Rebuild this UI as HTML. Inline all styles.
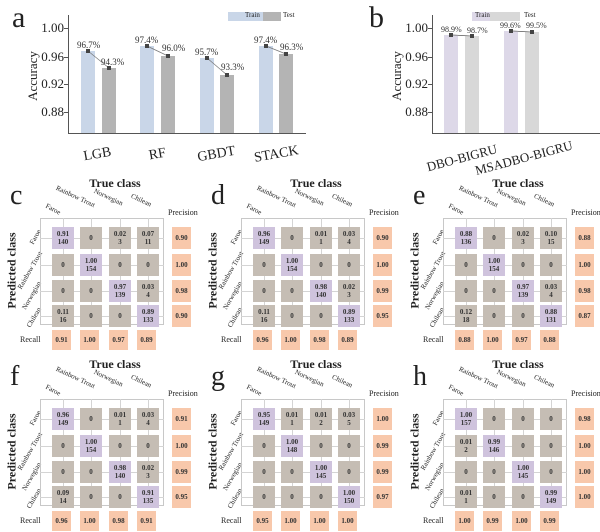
<!DOCTYPE html>
<html><head><meta charset="utf-8">
<style>
*{margin:0;padding:0;box-sizing:border-box}
body{width:600px;height:532px;background:#fff;position:relative;overflow:hidden;font-family:"Liberation Serif",serif;color:#222}
.a{position:absolute}
.P{position:absolute;width:200px;height:181px}
.fr{position:absolute;left:40px;top:48px;width:124px;height:107px;border:1px solid #c8c8c8}
.vl{position:absolute;top:48px;height:107px;width:1px;background:#d4d4d4}
.hl{position:absolute;left:40px;width:124px;height:1px;background:#d4d4d4}
.k{position:absolute;width:22px;height:22px;font-size:7px;font-weight:bold;line-height:8px;text-align:center;display:flex;align-items:center;justify-content:center;color:#333}
.g{background:#c5bdb4}.p{background:#cfc3dd}.o{background:#f8c8ab;width:19px}
.c0{left:52px}.c1{left:80px}.c2{left:109px}.c3{left:137px}.c4{left:172px}
.r0{top:57px}.r1{top:84px}.r2{top:110px}.r3{top:135px}.r4{top:160px;height:20px}
.tt{position:absolute;left:70px;top:6px;width:90px;text-align:center;font-weight:bold;font-size:12px}
.lt{position:absolute;left:10px;top:12px;font-size:28px;line-height:28px}
.pr{position:absolute;left:168px;top:38px;font-size:8px}
.rc{position:absolute;left:20px;top:165px;font-size:8px}
.pc{position:absolute;left:-38px;top:93px;width:100px;text-align:center;font-weight:bold;font-size:12px;transform:rotate(-90deg)}
.cl{position:absolute;font-size:7px;transform-origin:0 0;white-space:nowrap}
.rl{position:absolute;font-size:7px;transform-origin:100% 0;white-space:nowrap;text-align:right}
.tk{position:absolute;font-size:13px;text-align:right;width:40px}
.bv{position:absolute;font-size:9px;color:#333}
</style></head><body>

<!-- Panel a -->
<div class="a" style="left:12px;top:3px;font-size:30px;line-height:30px">a</div>
<div class="a" style="left:68px;top:15px;width:1px;height:118px;background:#555"></div>
<div class="a" style="left:68px;top:133px;width:238px;height:1px;background:#555"></div>
<div class="tk" style="left:24px;top:20px">1.00</div>
<div class="tk" style="left:24px;top:49px">0.96</div>
<div class="tk" style="left:24px;top:76px">0.92</div>
<div class="tk" style="left:24px;top:104px">0.88</div>
<div class="a" style="left:64px;top:28px;width:4px;height:1px;background:#555"></div>
<div class="a" style="left:64px;top:57px;width:4px;height:1px;background:#555"></div>
<div class="a" style="left:64px;top:84px;width:4px;height:1px;background:#555"></div>
<div class="a" style="left:64px;top:112px;width:4px;height:1px;background:#555"></div>
<div class="a" style="left:-2px;top:68px;width:70px;text-align:center;font-size:13px;transform:rotate(-90deg)">Accuracy</div>
<div class="a" style="left:81px;top:51px;width:14px;height:82px;background:#c9d6e8"></div>
<div class="a" style="left:102px;top:68px;width:14px;height:65px;background:#b4b4b4"></div>
<div class="a" style="left:140px;top:46px;width:14px;height:87px;background:#c9d6e8"></div>
<div class="a" style="left:161px;top:56px;width:14px;height:77px;background:#b4b4b4"></div>
<div class="a" style="left:200px;top:58px;width:14px;height:75px;background:#c9d6e8"></div>
<div class="a" style="left:220px;top:75px;width:14px;height:58px;background:#b4b4b4"></div>
<div class="a" style="left:259px;top:46px;width:14px;height:87px;background:#c9d6e8"></div>
<div class="a" style="left:279px;top:54px;width:14px;height:79px;background:#b4b4b4"></div>
<svg class="a" style="left:0;top:0" width="600" height="180">
<g stroke="#777" stroke-width="0.7"><line x1="88" y1="51" x2="109" y2="68"/><line x1="147" y1="46" x2="168" y2="56"/><line x1="207" y1="58" x2="227" y2="75"/><line x1="266" y1="46" x2="286" y2="54"/>
<line x1="451" y1="35" x2="472" y2="36"/><line x1="511" y1="31" x2="532" y2="32"/></g>
<g fill="#444"><rect x="86" y="49" width="4" height="4"/><rect x="107" y="66" width="4" height="4"/><rect x="145" y="44" width="4" height="4"/><rect x="166" y="54" width="4" height="4"/><rect x="205" y="56" width="4" height="4"/><rect x="225" y="73" width="4" height="4"/><rect x="264" y="44" width="4" height="4"/><rect x="284" y="52" width="4" height="4"/>
<rect x="449" y="33" width="4" height="4"/><rect x="470" y="34" width="4" height="4"/><rect x="509" y="29" width="4" height="4"/><rect x="530" y="30" width="4" height="4"/></g>
<g font-family="Liberation Serif" font-size="14" fill="#222" text-anchor="middle">
<text transform="translate(98,158) rotate(-10)">LGB</text><text transform="translate(158,158) rotate(-10)">RF</text><text transform="translate(217,158) rotate(-10)">GBDT</text><text transform="translate(277,158) rotate(-10)">STACK</text>
<text transform="translate(463,162) rotate(-15)" font-size="13">DBO-BIGRU</text><text transform="translate(525,162) rotate(-15)" font-size="13">MSADBO-BIGRU</text></g>
</svg>
<div class="bv" style="left:77px;top:40px">96.7%</div>
<div class="bv" style="left:101px;top:57px">94.3%</div>
<div class="bv" style="left:135px;top:35px">97.4%</div>
<div class="bv" style="left:162px;top:43px">96.0%</div>
<div class="bv" style="left:195px;top:47px">95.7%</div>
<div class="bv" style="left:221px;top:62px">93.3%</div>
<div class="bv" style="left:254px;top:35px">97.4%</div>
<div class="bv" style="left:280px;top:42px">96.3%</div>
<div class="a" style="left:228px;top:12px;width:35px;height:9px;background:#c9d6e8"></div>
<div class="a" style="left:263px;top:12px;width:18px;height:9px;background:#b4b4b4"></div>
<div class="a" style="left:245px;top:11px;font-size:7px">Train</div>
<div class="a" style="left:283px;top:11px;font-size:7px">Test</div>

<!-- Panel b -->
<div class="a" style="left:369px;top:3px;font-size:30px;line-height:30px">b</div>
<div class="a" style="left:432px;top:15px;width:1px;height:118px;background:#555"></div>
<div class="a" style="left:432px;top:133px;width:168px;height:1px;background:#555"></div>
<div class="tk" style="left:388px;top:20px">1.00</div>
<div class="tk" style="left:388px;top:49px">0.96</div>
<div class="tk" style="left:388px;top:76px">0.92</div>
<div class="tk" style="left:388px;top:104px">0.88</div>
<div class="a" style="left:428px;top:28px;width:4px;height:1px;background:#555"></div>
<div class="a" style="left:428px;top:57px;width:4px;height:1px;background:#555"></div>
<div class="a" style="left:428px;top:84px;width:4px;height:1px;background:#555"></div>
<div class="a" style="left:428px;top:112px;width:4px;height:1px;background:#555"></div>
<div class="a" style="left:362px;top:68px;width:70px;text-align:center;font-size:13px;transform:rotate(-90deg)">Accuracy</div>
<div class="a" style="left:444px;top:35px;width:14px;height:98px;background:#ddd8e8"></div>
<div class="a" style="left:465px;top:36px;width:14px;height:97px;background:#d8d8d8"></div>
<div class="a" style="left:504px;top:31px;width:14px;height:102px;background:#ddd8e8"></div>
<div class="a" style="left:525px;top:32px;width:14px;height:101px;background:#d8d8d8"></div>
<div class="a" style="left:472px;top:12px;width:18px;height:9px;background:#ddd8e8"></div>
<div class="a" style="left:490px;top:12px;width:30px;height:9px;background:#d8d8d8"></div>
<div class="a" style="left:475px;top:11px;font-size:7px">Train</div>
<div class="a" style="left:524px;top:11px;font-size:7px">Test</div>
<svg class="a" style="left:0;top:0" width="600" height="180"><g stroke="#777" stroke-width="0.7"><line x1="451" y1="35" x2="472" y2="36"/><line x1="511" y1="31" x2="532" y2="32"/></g>
<g fill="#444"><rect x="449" y="33" width="4" height="4"/><rect x="470" y="34" width="4" height="4"/><rect x="509" y="29" width="4" height="4"/><rect x="530" y="30" width="4" height="4"/></g></svg>
<div class="bv" style="left:441px;top:25px;font-size:8px">98.9%</div>
<div class="bv" style="left:467px;top:26px;font-size:8px">98.7%</div>
<div class="bv" style="left:500px;top:21px;font-size:8px">99.6%</div>
<div class="bv" style="left:526px;top:21px;font-size:8px">99.5%</div>

<!-- Matrix panels -->
<div class="P" style="left:0;top:170px">
<div class="tt">True class</div><div class="lt">c</div><div class="pr">Precision</div><div class="rc">Recall</div><div class="pc">Predicted class</div>
<div class="cl" style="left:48px;top:32px;transform:rotate(28deg)">Faroe</div><div class="cl" style="left:58px;top:14px;transform:rotate(25deg)">Rainbow Trout</div><div class="cl" style="left:96px;top:17px;transform:rotate(25deg)">Norwegian</div><div class="cl" style="left:133px;top:22px;transform:rotate(25deg)">Chilean</div>
<div class="rl" style="left:-4px;top:58px;width:40px;transform:rotate(-60deg)">Faroe</div><div class="rl" style="left:-4px;top:82px;width:40px;transform:rotate(-60deg)">Rainbow Trout</div><div class="rl" style="left:-4px;top:110px;width:40px;transform:rotate(-60deg)">Norwegian</div><div class="rl" style="left:-4px;top:136px;width:40px;transform:rotate(-60deg)">Chilean</div>
<div class="fr"></div><div class="vl" style="left:63px"></div><div class="vl" style="left:91px"></div><div class="vl" style="left:120px"></div><div class="vl" style="left:148px"></div><div class="hl" style="top:68px"></div><div class="hl" style="top:95px"></div><div class="hl" style="top:121px"></div><div class="hl" style="top:146px"></div>
<div class="k p r0 c0">0.91<br>140</div><div class="k g r0 c1">0</div><div class="k g r0 c2">0.02<br>3</div><div class="k g r0 c3">0.07<br>11</div><div class="k o r0 c4">0.90</div>
<div class="k g r1 c0">0</div><div class="k p r1 c1">1.00<br>154</div><div class="k g r1 c2">0</div><div class="k g r1 c3">0</div><div class="k o r1 c4">1.00</div>
<div class="k g r2 c0">0</div><div class="k g r2 c1">0</div><div class="k p r2 c2">0.97<br>139</div><div class="k g r2 c3">0.03<br>4</div><div class="k o r2 c4">0.98</div>
<div class="k g r3 c0">0.11<br>16</div><div class="k g r3 c1">0</div><div class="k g r3 c2">0</div><div class="k p r3 c3">0.89<br>133</div><div class="k o r3 c4">0.90</div>
<div class="k o r4 c0">0.91</div><div class="k o r4 c1">1.00</div><div class="k o r4 c2">0.97</div><div class="k o r4 c3">0.89</div>
</div>

<div class="P" style="left:201px;top:170px">
<div class="tt">True class</div><div class="lt">d</div><div class="pr">Precision</div><div class="rc">Recall</div><div class="pc">Predicted class</div>
<div class="cl" style="left:48px;top:32px;transform:rotate(28deg)">Faroe</div><div class="cl" style="left:58px;top:14px;transform:rotate(25deg)">Rainbow Trout</div><div class="cl" style="left:96px;top:17px;transform:rotate(25deg)">Norwegian</div><div class="cl" style="left:133px;top:22px;transform:rotate(25deg)">Chilean</div>
<div class="rl" style="left:-4px;top:58px;width:40px;transform:rotate(-60deg)">Faroe</div><div class="rl" style="left:-4px;top:82px;width:40px;transform:rotate(-60deg)">Rainbow Trout</div><div class="rl" style="left:-4px;top:110px;width:40px;transform:rotate(-60deg)">Norwegian</div><div class="rl" style="left:-4px;top:136px;width:40px;transform:rotate(-60deg)">Chilean</div>
<div class="fr"></div><div class="vl" style="left:63px"></div><div class="vl" style="left:91px"></div><div class="vl" style="left:120px"></div><div class="vl" style="left:148px"></div><div class="hl" style="top:68px"></div><div class="hl" style="top:95px"></div><div class="hl" style="top:121px"></div><div class="hl" style="top:146px"></div>
<div class="k p r0 c0">0.96<br>149</div><div class="k g r0 c1">0</div><div class="k g r0 c2">0.01<br>1</div><div class="k g r0 c3">0.03<br>4</div><div class="k o r0 c4">0.90</div>
<div class="k g r1 c0">0</div><div class="k p r1 c1">1.00<br>154</div><div class="k g r1 c2">0</div><div class="k g r1 c3">0</div><div class="k o r1 c4">1.00</div>
<div class="k g r2 c0">0</div><div class="k g r2 c1">0</div><div class="k p r2 c2">0.98<br>140</div><div class="k g r2 c3">0.02<br>3</div><div class="k o r2 c4">0.99</div>
<div class="k g r3 c0">0.11<br>16</div><div class="k g r3 c1">0</div><div class="k g r3 c2">0</div><div class="k p r3 c3">0.89<br>133</div><div class="k o r3 c4">0.95</div>
<div class="k o r4 c0">0.96</div><div class="k o r4 c1">1.00</div><div class="k o r4 c2">0.98</div><div class="k o r4 c3">0.89</div>
</div>

<div class="P" style="left:403px;top:170px">
<div class="tt">True class</div><div class="lt">e</div><div class="pr">Precision</div><div class="rc">Recall</div><div class="pc">Predicted class</div>
<div class="cl" style="left:48px;top:32px;transform:rotate(28deg)">Faroe</div><div class="cl" style="left:58px;top:14px;transform:rotate(25deg)">Rainbow Trout</div><div class="cl" style="left:96px;top:17px;transform:rotate(25deg)">Norwegian</div><div class="cl" style="left:133px;top:22px;transform:rotate(25deg)">Chilean</div>
<div class="rl" style="left:-4px;top:58px;width:40px;transform:rotate(-60deg)">Faroe</div><div class="rl" style="left:-4px;top:82px;width:40px;transform:rotate(-60deg)">Rainbow Trout</div><div class="rl" style="left:-4px;top:110px;width:40px;transform:rotate(-60deg)">Norwegian</div><div class="rl" style="left:-4px;top:136px;width:40px;transform:rotate(-60deg)">Chilean</div>
<div class="fr"></div><div class="vl" style="left:63px"></div><div class="vl" style="left:91px"></div><div class="vl" style="left:120px"></div><div class="vl" style="left:148px"></div><div class="hl" style="top:68px"></div><div class="hl" style="top:95px"></div><div class="hl" style="top:121px"></div><div class="hl" style="top:146px"></div>
<div class="k p r0 c0">0.88<br>136</div><div class="k g r0 c1">0</div><div class="k g r0 c2">0.02<br>3</div><div class="k g r0 c3">0.10<br>15</div><div class="k o r0 c4">0.88</div>
<div class="k g r1 c0">0</div><div class="k p r1 c1">1.00<br>154</div><div class="k g r1 c2">0</div><div class="k g r1 c3">0</div><div class="k o r1 c4">1.00</div>
<div class="k g r2 c0">0</div><div class="k g r2 c1">0</div><div class="k p r2 c2">0.97<br>139</div><div class="k g r2 c3">0.03<br>4</div><div class="k o r2 c4">0.98</div>
<div class="k g r3 c0">0.12<br>18</div><div class="k g r3 c1">0</div><div class="k g r3 c2">0</div><div class="k p r3 c3">0.88<br>131</div><div class="k o r3 c4">0.87</div>
<div class="k o r4 c0">0.88</div><div class="k o r4 c1">1.00</div><div class="k o r4 c2">0.97</div><div class="k o r4 c3">0.88</div>
</div>

<div class="P" style="left:0;top:351px">
<div class="tt">True class</div><div class="lt">f</div><div class="pr">Precision</div><div class="rc">Recall</div><div class="pc">Predicted class</div>
<div class="cl" style="left:48px;top:32px;transform:rotate(28deg)">Faroe</div><div class="cl" style="left:58px;top:14px;transform:rotate(25deg)">Rainbow Trout</div><div class="cl" style="left:96px;top:17px;transform:rotate(25deg)">Norwegian</div><div class="cl" style="left:133px;top:22px;transform:rotate(25deg)">Chilean</div>
<div class="rl" style="left:-4px;top:58px;width:40px;transform:rotate(-60deg)">Faroe</div><div class="rl" style="left:-4px;top:82px;width:40px;transform:rotate(-60deg)">Rainbow Trout</div><div class="rl" style="left:-4px;top:110px;width:40px;transform:rotate(-60deg)">Norwegian</div><div class="rl" style="left:-4px;top:136px;width:40px;transform:rotate(-60deg)">Chilean</div>
<div class="fr"></div><div class="vl" style="left:63px"></div><div class="vl" style="left:91px"></div><div class="vl" style="left:120px"></div><div class="vl" style="left:148px"></div><div class="hl" style="top:68px"></div><div class="hl" style="top:95px"></div><div class="hl" style="top:121px"></div><div class="hl" style="top:146px"></div>
<div class="k p r0 c0">0.96<br>149</div><div class="k g r0 c1">0</div><div class="k g r0 c2">0.01<br>1</div><div class="k g r0 c3">0.03<br>4</div><div class="k o r0 c4">0.91</div>
<div class="k g r1 c0">0</div><div class="k p r1 c1">1.00<br>154</div><div class="k g r1 c2">0</div><div class="k g r1 c3">0</div><div class="k o r1 c4">1.00</div>
<div class="k g r2 c0">0</div><div class="k g r2 c1">0</div><div class="k p r2 c2">0.98<br>140</div><div class="k g r2 c3">0.02<br>3</div><div class="k o r2 c4">0.99</div>
<div class="k g r3 c0">0.09<br>14</div><div class="k g r3 c1">0</div><div class="k g r3 c2">0</div><div class="k p r3 c3">0.91<br>135</div><div class="k o r3 c4">0.95</div>
<div class="k o r4 c0">0.96</div><div class="k o r4 c1">1.00</div><div class="k o r4 c2">0.98</div><div class="k o r4 c3">0.91</div>
</div>

<div class="P" style="left:201px;top:351px">
<div class="tt">True class</div><div class="lt">g</div><div class="pr">Precision</div><div class="rc">Recall</div><div class="pc">Predicted class</div>
<div class="cl" style="left:48px;top:32px;transform:rotate(28deg)">Faroe</div><div class="cl" style="left:58px;top:14px;transform:rotate(25deg)">Rainbow Trout</div><div class="cl" style="left:96px;top:17px;transform:rotate(25deg)">Norwegian</div><div class="cl" style="left:133px;top:22px;transform:rotate(25deg)">Chilean</div>
<div class="rl" style="left:-4px;top:58px;width:40px;transform:rotate(-60deg)">Faroe</div><div class="rl" style="left:-4px;top:82px;width:40px;transform:rotate(-60deg)">Rainbow Trout</div><div class="rl" style="left:-4px;top:110px;width:40px;transform:rotate(-60deg)">Norwegian</div><div class="rl" style="left:-4px;top:136px;width:40px;transform:rotate(-60deg)">Chilean</div>
<div class="fr"></div><div class="vl" style="left:63px"></div><div class="vl" style="left:91px"></div><div class="vl" style="left:120px"></div><div class="vl" style="left:148px"></div><div class="hl" style="top:68px"></div><div class="hl" style="top:95px"></div><div class="hl" style="top:121px"></div><div class="hl" style="top:146px"></div>
<div class="k p r0 c0">0.95<br>149</div><div class="k g r0 c1">0.01<br>1</div><div class="k g r0 c2">0.01<br>2</div><div class="k g r0 c3">0.03<br>5</div><div class="k o r0 c4">1.00</div>
<div class="k g r1 c0">0</div><div class="k p r1 c1">1.00<br>148</div><div class="k g r1 c2">0</div><div class="k g r1 c3">0</div><div class="k o r1 c4">0.99</div>
<div class="k g r2 c0">0</div><div class="k g r2 c1">0</div><div class="k p r2 c2">1.00<br>145</div><div class="k g r2 c3">0</div><div class="k o r2 c4">0.99</div>
<div class="k g r3 c0">0</div><div class="k g r3 c1">0</div><div class="k g r3 c2">0</div><div class="k p r3 c3">1.00<br>150</div><div class="k o r3 c4">0.97</div>
<div class="k o r4 c0">0.95</div><div class="k o r4 c1">1.00</div><div class="k o r4 c2">1.00</div><div class="k o r4 c3">1.00</div>
</div>

<div class="P" style="left:403px;top:351px">
<div class="tt">True class</div><div class="lt">h</div><div class="pr">Precision</div><div class="rc">Recall</div><div class="pc">Predicted class</div>
<div class="cl" style="left:48px;top:32px;transform:rotate(28deg)">Faroe</div><div class="cl" style="left:58px;top:14px;transform:rotate(25deg)">Rainbow Trout</div><div class="cl" style="left:96px;top:17px;transform:rotate(25deg)">Norwegian</div><div class="cl" style="left:133px;top:22px;transform:rotate(25deg)">Chilean</div>
<div class="rl" style="left:-4px;top:58px;width:40px;transform:rotate(-60deg)">Faroe</div><div class="rl" style="left:-4px;top:82px;width:40px;transform:rotate(-60deg)">Rainbow Trout</div><div class="rl" style="left:-4px;top:110px;width:40px;transform:rotate(-60deg)">Norwegian</div><div class="rl" style="left:-4px;top:136px;width:40px;transform:rotate(-60deg)">Chilean</div>
<div class="fr"></div><div class="vl" style="left:63px"></div><div class="vl" style="left:91px"></div><div class="vl" style="left:120px"></div><div class="vl" style="left:148px"></div><div class="hl" style="top:68px"></div><div class="hl" style="top:95px"></div><div class="hl" style="top:121px"></div><div class="hl" style="top:146px"></div>
<div class="k p r0 c0">1.00<br>157</div><div class="k g r0 c1">0</div><div class="k g r0 c2">0</div><div class="k g r0 c3">0</div><div class="k o r0 c4">0.98</div>
<div class="k g r1 c0">0.01<br>2</div><div class="k p r1 c1">0.99<br>146</div><div class="k g r1 c2">0</div><div class="k g r1 c3">0</div><div class="k o r1 c4">1.00</div>
<div class="k g r2 c0">0</div><div class="k g r2 c1">0</div><div class="k p r2 c2">1.00<br>145</div><div class="k g r2 c3">0</div><div class="k o r2 c4">1.00</div>
<div class="k g r3 c0">0.01<br>1</div><div class="k g r3 c1">0</div><div class="k g r3 c2">0</div><div class="k p r3 c3">0.99<br>149</div><div class="k o r3 c4">1.00</div>
<div class="k o r4 c0">1.00</div><div class="k o r4 c1">0.99</div><div class="k o r4 c2">1.00</div><div class="k o r4 c3">0.99</div>
</div>

</body></html>
